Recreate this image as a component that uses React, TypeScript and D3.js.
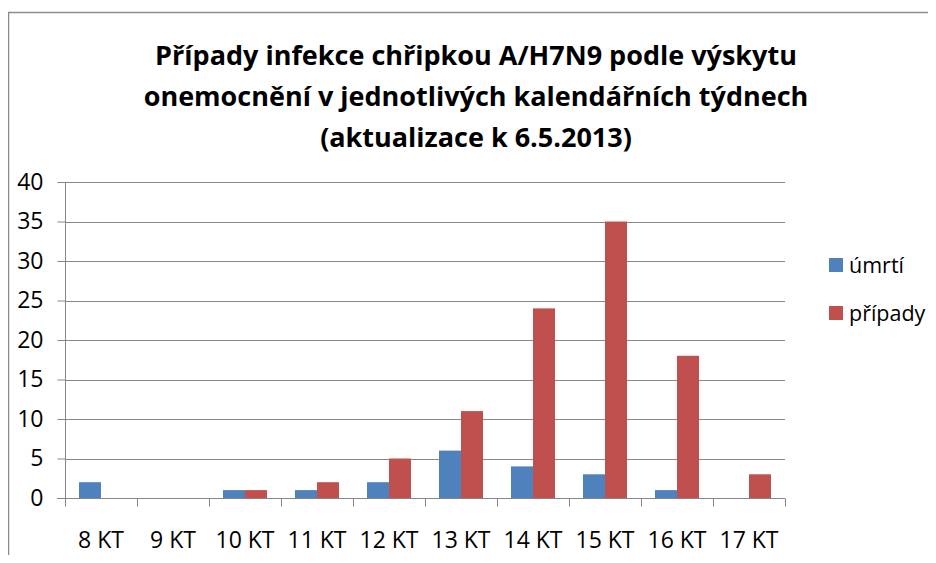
import React, { useEffect, useRef } from 'react';
import * as d3 from 'd3';

// --- Data ---
const weeks = ['8 KT', '9 KT', '10 KT', '11 KT', '12 KT', '13 KT', '14 KT', '15 KT', '16 KT', '17 KT'];
const deaths = [2, 0, 1, 1, 2, 6, 4, 3, 1, 0];
const cases = [0, 0, 1, 2, 5, 11, 24, 35, 18, 3];
const seriesNames = ['úmrtí', 'případy'];
const seriesColors = ['#4F81BD', '#C0504D'];
const yTicks = [0, 5, 10, 15, 20, 25, 30, 35, 40];
const titleLines = [
  'Případy infekce chřipkou A/H7N9 podle výskytu',
  'onemocnění v jednotlivých kalendářních týdnech',
  '(aktualizace k 6.5.2013)',
];

const FONT = '"Open Sans", "DejaVu Sans", sans-serif';

const App = () => {
  const ref = useRef<SVGSVGElement | null>(null);

  useEffect(() => {
    if (!ref.current) return;
    const svg = d3.select(ref.current);
    svg.selectAll('*').remove();

    const W = 936, H = 563;
    const plot = { left: 65, right: 785, top: 182, bottom: 498 };
    const axisColor = '#868686';

    svg.append('rect').attr('width', W).attr('height', H).attr('fill', '#fff');
    // chart frame
    svg.append('path')
      .attr('d', `M8.5,${H} L8.5,12.5 L${W},12.5`)
      .attr('fill', 'none').attr('stroke', '#8c8c8c').attr('stroke-width', 1.5);

    // title
    svg.append('g').selectAll('text').data(titleLines).enter().append('text')
      .attr('x', 476).attr('y', (d, i) => 65 + i * 41)
      .attr('text-anchor', 'middle')
      .style('font-family', FONT).style('font-weight', 700).style('font-size', '27px')
      .attr('fill', '#000').text(d => d);

    const y = d3.scaleLinear().domain([0, 40]).range([plot.bottom, plot.top]);
    const x0 = d3.scaleBand().domain(weeks).range([plot.left, plot.right]).padding(0);
    const x1 = d3.scaleBand().domain(seriesNames).range([0, x0.bandwidth()])
      .paddingInner(0).paddingOuter(0.636);

    // gridlines
    svg.append('g').selectAll('line').data(yTicks.filter(t => t > 0)).enter().append('line')
      .attr('x1', plot.left).attr('x2', plot.right)
      .attr('y1', d => Math.round(y(d)) + 0.5).attr('y2', d => Math.round(y(d)) + 0.5)
      .attr('stroke', axisColor).attr('stroke-width', 1);

    // bars
    const series = [deaths, cases];
    series.forEach((vals, si) => {
      svg.append('g').selectAll('rect').data(vals).enter().append('rect')
        .attr('x', (d, i) => (x0(weeks[i]) as number) + (x1(seriesNames[si]) as number))
        .attr('y', d => y(d))
        .attr('width', x1.bandwidth())
        .attr('height', d => plot.bottom - y(d))
        .attr('fill', seriesColors[si]);
    });

    // y axis
    const yAxis = svg.append('g').attr('transform', `translate(${plot.left + 0.5},0)`)
      .call(d3.axisLeft(y).tickValues(yTicks).tickSize(8).tickPadding(14).tickFormat(d3.format('d')));
    yAxis.select('.domain').attr('stroke', axisColor).attr('d', `M0,${plot.top}V${plot.bottom}`);
    yAxis.selectAll('.tick line').attr('stroke', axisColor);
    yAxis.selectAll('.tick text')
      .style('font-family', FONT).style('font-size', '23px').attr('fill', '#000');

    // x axis
    const xTickPos = weeks.map(w => x0(w) as number).concat([plot.right]);
    const xAxis = svg.append('g').attr('transform', `translate(0,${plot.bottom + 0.5})`);
    xAxis.append('line').attr('x1', plot.left - 8).attr('x2', plot.right)
      .attr('stroke', axisColor);
    xAxis.selectAll('line.tick').data(xTickPos).enter().append('line')
      .attr('class', 'tick')
      .attr('x1', d => Math.round(d) + 0.5).attr('x2', d => Math.round(d) + 0.5)
      .attr('y1', 0).attr('y2', 8).attr('stroke', axisColor);
    xAxis.selectAll('text').data(weeks).enter().append('text')
      .attr('x', d => (x0(d) as number) + x0.bandwidth() / 2)
      .attr('y', 49)
      .attr('text-anchor', 'middle')
      .style('font-family', FONT).style('font-size', '23px').attr('fill', '#000')
      .text(d => d);

    // legend
    const legend = svg.append('g').selectAll('g').data(seriesNames).enter().append('g')
      .attr('transform', (d, i) => `translate(829,${258 + i * 48})`);
    legend.append('rect').attr('width', 14).attr('height', 14).attr('fill', (d, i) => seriesColors[i]);
    legend.append('text').attr('x', 20).attr('y', 7).attr('dy', '0.35em')
      .style('font-family', FONT).style('font-size', '21.5px').attr('fill', '#000')
      .text(d => d);
  }, []);

  return <svg ref={ref} width={936} height={563} style={{ display: 'block', margin: '-8px' }} />;
};

export default App;
